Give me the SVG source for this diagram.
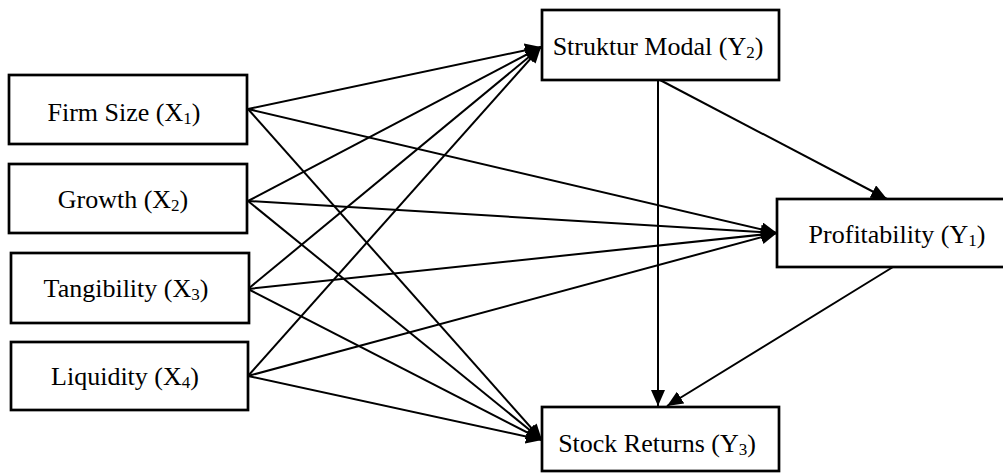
<svg xmlns="http://www.w3.org/2000/svg" width="1003" height="473" viewBox="0 0 1003 473">
  <style>
    .box { fill: #ffffff; stroke: #000000; stroke-width: 2.7; }
    .lbl { font-family: 'Liberation Serif', 'Times New Roman', Times, serif; font-size: 26px; fill: #000000; text-anchor: middle; }
    .sub { font-size: 17px; }
    .edge { stroke: #000000; stroke-width: 2; fill: none; marker-end: url(#head); }
  </style>
  <defs>
    <marker id="head" markerUnits="userSpaceOnUse" markerWidth="18" markerHeight="14" refX="16" refY="7" orient="auto">
      <path d="M0,0 L16,7 L0,14 Z" fill="#000000"/>
    </marker>
  </defs>

  <rect width="1003" height="473" fill="#ffffff"/>

  <g id="connectors">
    <!-- Firm Size -->
    <line class="edge" x1="248" y1="109" x2="541" y2="47"/>
    <line class="edge" x1="248" y1="109" x2="777" y2="233"/>
    <line class="edge" x1="248" y1="109" x2="542" y2="440"/>
    <!-- Growth -->
    <line class="edge" x1="248" y1="201" x2="541" y2="47"/>
    <line class="edge" x1="248" y1="201" x2="777" y2="233"/>
    <line class="edge" x1="248" y1="201" x2="542" y2="440"/>
    <!-- Tangibility -->
    <line class="edge" x1="248" y1="289" x2="541" y2="47"/>
    <line class="edge" x1="248" y1="289" x2="777" y2="233"/>
    <line class="edge" x1="248" y1="289" x2="542" y2="440"/>
    <!-- Liquidity -->
    <line class="edge" x1="248" y1="376" x2="541" y2="47"/>
    <line class="edge" x1="248" y1="376" x2="777" y2="233"/>
    <line class="edge" x1="248" y1="376" x2="542" y2="440"/>
    <!-- Struktur Modal -->
    <line class="edge" x1="658" y1="80" x2="658" y2="406"/>
    <line class="edge" x1="660" y1="80" x2="887" y2="199"/>
    <!-- Profitability -->
    <line class="edge" x1="893" y1="267" x2="667" y2="406"/>
  </g>

  <g id="firm-size">
    <rect class="box" x="9" y="75" width="238" height="69"/>
    <text class="lbl" font-family="Liberation Serif, serif" x="124" y="121">Firm Size (X<tspan class="sub" dy="3">1</tspan><tspan dy="-3">)</tspan></text>
  </g>
  <g id="growth">
    <rect class="box" x="9" y="164" width="238" height="69"/>
    <text class="lbl" font-family="Liberation Serif, serif" x="123" y="208">Growth (X<tspan class="sub" dy="3">2</tspan><tspan dy="-3">)</tspan></text>
  </g>
  <g id="tangibility">
    <rect class="box" x="11" y="253" width="238" height="70"/>
    <text class="lbl" font-family="Liberation Serif, serif" x="126" y="297">Tangibility (X<tspan class="sub" dy="3">3</tspan><tspan dy="-3">)</tspan></text>
  </g>
  <g id="liquidity">
    <rect class="box" x="11" y="342" width="237" height="68"/>
    <text class="lbl" font-family="Liberation Serif, serif" x="125" y="385">Liquidity (X<tspan class="sub" dy="3">4</tspan><tspan dy="-3">)</tspan></text>
  </g>
  <g id="struktur-modal">
    <rect class="box" x="542" y="10" width="237" height="70"/>
    <text class="lbl" font-family="Liberation Serif, serif" x="658" y="55">Struktur Modal (Y<tspan class="sub" dy="3">2</tspan><tspan dy="-3">)</tspan></text>
  </g>
  <g id="profitability">
    <rect class="box" x="777" y="199" width="240" height="68"/>
    <text class="lbl" font-family="Liberation Serif, serif" x="897" y="243">Profitability (Y<tspan class="sub" dy="3">1</tspan><tspan dy="-3">)</tspan></text>
  </g>
  <g id="stock-returns">
    <rect class="box" x="542" y="407" width="237" height="64"/>
    <text class="lbl" font-family="Liberation Serif, serif" x="657" y="452">Stock Returns (Y<tspan class="sub" dy="3">3</tspan><tspan dy="-3">)</tspan></text>
  </g>
</svg>
